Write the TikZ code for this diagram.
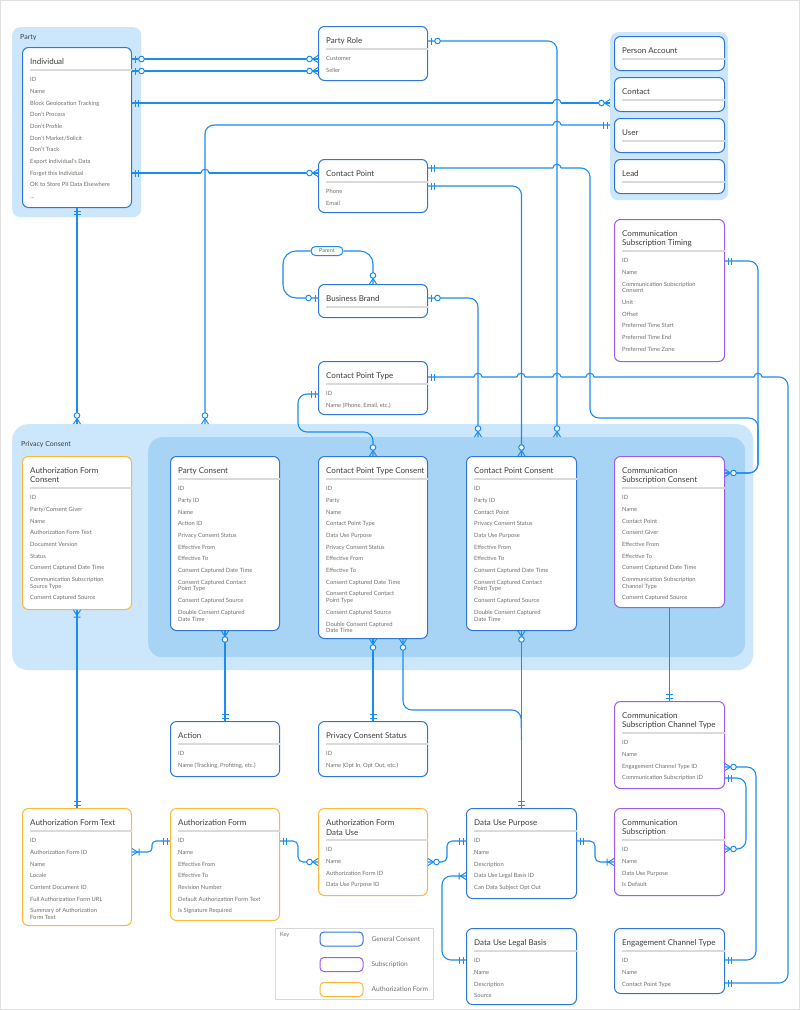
\documentclass[tikz,border=0pt]{standalone}
\usepackage{fontspec}
\setmainfont{Lato}
\usetikzlibrary{positioning}

\definecolor{lnk}{HTML}{1B8CF2}
\definecolor{gcon}{HTML}{2F76D9}
\definecolor{subs}{HTML}{9D5CEC}
\definecolor{auth}{HTML}{FDB83A}
\definecolor{outerbg}{HTML}{CCE7FB}
\definecolor{innerbg}{HTML}{A7D4F4}
\definecolor{ttlc}{HTML}{3E3E3C}
\definecolor{attrc}{HTML}{706E6B}
\definecolor{divc}{HTML}{DADADA}

% entity: name, style, x, y, w, h, title, divider offset, attributes
\newcommand\entity[9]{%
  \node[#2, minimum width=#5pt, minimum height=#6pt] (#1) at (#3,#4) {};
  \node[ttl] (#1-t) at ([xshift=8pt,yshift=-11.5pt]#1.north west) {#7};
  \draw[divline] ([xshift=8pt,yshift=-#8pt]#1.north west) -- ([yshift=-#8pt]#1.north east);
  \node[attr] (#1-a) at ([xshift=8pt,yshift=-#8pt-7.3pt]#1.north west) {#9};
}
% line hop over a crossing
\newcommand\hop[2]{\draw[rel,sharp corners] (#1-4,#2) .. controls (#1-4,#2-5) and (#1+4,#2-5) .. (#1+4,#2);}

\begin{document}
\begin{tikzpicture}[x=1pt,y=-1pt,
  rel/.style={draw=lnk,line width=1.1pt,rounded corners=9pt},
  mk/.style={draw=lnk,line width=1pt,sharp corners},
  grp/.style={fill=outerbg,rounded corners=8pt,anchor=north west,inner sep=0pt},
  gcbox/.style={draw=gcon,fill=white,line width=1pt,rounded corners=6pt,anchor=north west,inner sep=0pt},
  subbox/.style={gcbox,draw=subs},
  afbox/.style={gcbox,draw=auth},
  ttl/.style={anchor=north west,inner sep=0pt,align=left,text=ttlc,font=\fontsize{8}{9.4}\selectfont},
  attr/.style={anchor=north west,inner sep=0pt,align=left,text=attrc,font=\fontsize{5.8}{11.7}\selectfont},
  lbl/.style={anchor=west,inner sep=0pt,text=ttlc,font=\fontsize{7}{8}\selectfont},
  divline/.style={draw=divc,line width=1.2pt},
  pill/.style={draw=lnk,fill=white,line width=1pt,rounded corners=4.5pt,minimum width=32pt,minimum height=9pt,inner sep=0pt,text=attrc,font=\fontsize{5.5}{6}\selectfont},
  keysw/.style={draw=#1,line width=1pt,rounded corners=4pt,minimum width=43pt,minimum height=14pt,inner sep=0pt},
  keytx/.style={anchor=west,inner sep=0pt,text=attrc,font=\fontsize{6.6}{7}\selectfont},
  pics/mone/.style={code={\draw[mk] (3,-3.5) -- (3,3.5) (6.5,-3.5) -- (6.5,3.5);}},
  pics/zone/.style={code={\draw[mk] (3,-3.5) -- (3,3.5); \draw[mk,fill=white] (9.5,0) circle (2.8);}},
  pics/zmany/.style={code={\draw[mk] (0,-3.5) -- (5.5,0) -- (0,3.5); \draw[mk,fill=white] (8.5,0) circle (2.8);}},
  pics/omany/.style={code={\draw[mk] (0,-3.5) -- (5.5,0) -- (0,3.5) (7,-3.5) -- (7,3.5);}}]
  \useasboundingbox (0,0) rectangle (800,1010);
  \fill[white] (0,0) rectangle (800,1010);
  \draw[black!12,line width=1.5pt] (0,0) rectangle (800,1010);

  % groups
  \node[grp,minimum width=129pt,minimum height=190pt] (party) at (12,27) {};
  \node[lbl] (party-l) at (20,38) {Party};
  \node[grp,minimum width=118pt,minimum height=168pt] (pgrp) at (610,32) {};
  \node[grp,rounded corners=16pt,minimum width=741pt,minimum height=246pt] (pcout) at (12,424) {};
  \node[lbl] (pcout-l) at (21,445) {Privacy Consent};
  \node[grp,fill=innerbg,rounded corners=14pt,minimum width=597pt,minimum height=220pt] (pcin) at (148,437) {};

  % entities
  \entity{indiv}{gcbox}{22}{47}{109}{160}{Individual}{23}{ID\\Name\\Block Geolocation Tracking\\Don't Process\\Don't Profile\\Don't Market/Solicit\\Don't Track\\Export Individual's Data\\Forget this Individual\\OK to Store PII Data Elsewhere\\...}
  \entity{prole}{gcbox}{318}{26}{109}{54}{Party Role}{23}{Customer\\Seller}
  \entity{cpoint}{gcbox}{318}{159}{109}{53}{Contact Point}{23}{Phone\\Email}
  \entity{pacct}{gcbox}{614}{36}{110}{34}{Person Account}{23}{}
  \entity{contact}{gcbox}{614}{77}{110}{34}{Contact}{23}{}
  \entity{user}{gcbox}{614}{118}{110}{34}{User}{23}{}
  \entity{lead}{gcbox}{614}{159}{110}{34}{Lead}{23}{}
  \entity{bbrand}{gcbox}{318}{284}{109}{33}{Business Brand}{23}{}
  \entity{cst}{subbox}{614}{219}{110}{142}{Communication\\Subscription Timing}{32}{ID\\Name\\Communication Subscription\\[-5pt]Consent\\Unit\\Offset\\Preferred Time Start\\Preferred Time End\\Preferred Time Zone}
  \entity{cptype}{gcbox}{318}{361}{109}{53}{Contact Point Type}{23}{ID\\Name (Phone, Email, etc.)}
  \entity{afc}{afbox}{22}{456}{109}{153}{Authorization Form\\Consent}{32}{ID\\Party/Consent Giver\\Name\\Authorization Form Text\\Document Version\\Status\\Consent Captured Date Time\\Communication Subscription\\[-5pt]Source Type\\Consent Captured Source}
  \entity{pcon}{gcbox}{170}{456}{109}{174}{Party Consent}{23}{ID\\Party ID\\Name\\Action ID\\Privacy Consent Status\\Effective From\\Effective To\\Consent Captured Date Time\\Consent Captured Contact\\[-5pt]Point Type\\Consent Captured Source\\Double Consent Captured\\[-5pt]Date Time}
  \entity{cptc}{gcbox}{318}{456}{109}{182}{Contact Point Type Consent}{23}{ID\\Party\\Name\\Contact Point Type\\Data Use Purpose\\Privacy Consent Status\\Effective From\\Effective To\\Consent Captured Date Time\\Consent Captured Contact\\[-5pt]Point Type\\Consent Captured Source\\Double Consent Captured\\[-5pt]Date Time}
  \entity{cpc}{gcbox}{466}{456}{110}{174}{Contact Point Consent}{23}{ID\\Party ID\\Contact Point\\Privacy Consent Status\\Data Use Purpose\\Effective From\\Effective To\\Consent Captured Date Time\\Consent Captured Contact\\[-5pt]Point Type\\Consent Captured Source\\Double Consent Captured\\[-5pt]Date Time}
  \entity{csc}{subbox}{614}{456}{110}{151}{Communication\\Subscription Consent}{32}{ID\\Name\\Contact Point\\Consent Giver\\Effective From\\Effective To\\Consent Captured Date Time\\Communication Subscription\\[-5pt]Channel Type\\Consent Captured Source}
  \entity{action}{gcbox}{170}{721}{109}{55}{Action}{23}{ID\\Name (Tracking, Profiting, etc.)}
  \entity{pcs}{gcbox}{318}{721}{109}{55}{Privacy Consent Status}{23}{ID\\Name (Opt In, Opt Out, etc.)}
  \entity{csct}{subbox}{614}{701}{110}{87}{Communication\\Subscription Channel Type}{32}{ID\\Name\\Engagement Channel Type ID\\Communication Subscription ID}
  \entity{aft}{afbox}{22}{808}{109}{117}{Authorization Form Text}{23}{ID\\Authorization Form ID\\Name\\Locale\\Content Document ID\\Full Authorization Form URL\\Summary of Authorization\\[-5pt]Form Text}
  \entity{af}{afbox}{170}{808}{109}{112}{Authorization Form}{23}{ID\\Name\\Effective From\\Effective To\\Revision Number\\Default Authorization Form Text\\Is Signature Required}
  \entity{afdu}{afbox}{318}{808}{109}{87}{Authorization Form\\Data Use}{32}{ID\\Name\\Authorization Form ID\\Data Use Purpose ID}
  \entity{dup}{gcbox}{466}{808}{110}{90}{Data Use Purpose}{23}{ID\\Name\\Description\\Data Use Legal Basis ID\\Can Data Subject Opt Out}
  \entity{cs}{subbox}{614}{808}{110}{87}{Communication\\Subscription}{32}{ID\\Name\\Data Use Purpose\\Is Default}
  \entity{dulb}{gcbox}{466}{928}{110}{76}{Data Use Legal Basis}{23}{ID\\Name\\Description\\Source}
  \entity{ect}{gcbox}{614}{928}{110}{65}{Engagement Channel Type}{23}{ID\\Name\\Contact Point Type}
  \node[pill] (parent) at (327,251) {Parent};

  % key
  \node[draw=black!15,fill=white,line width=1pt,anchor=north west,minimum width=158pt,minimum height=71pt] (key) at (275,928) {};
  \node[anchor=north west,inner sep=0pt,text=attrc,font=\fontsize{5.5}{6}\selectfont] (key-t) at (280,932) {Key};
  \node[keysw=gcon] (k1) at (341.5,939) {};
  \node[keysw=subs] (k2) at (341.5,964.5) {};
  \node[keysw=auth] (k3) at (341.5,989.5) {};
  \node[keytx] (k1-t) at ([xshift=8pt]k1.east) {General Consent};
  \node[keytx] (k2-t) at ([xshift=8pt]k2.east) {Subscription};
  \node[keytx] (k3-t) at ([xshift=8pt]k3.east) {Authorization Form};

  % relations
  \draw[rel] (indiv.east |- 0,59) -- (prole.west |- 0,59);
  \draw[rel] (indiv.east |- 0,71) -- (prole.west |- 0,71);
  \draw[rel] (indiv.east |- 0,103) -- (553,103) (561,103) -- (pgrp.west |- 0,103);
  \draw[rel] (pcout.north -| 205,0) -- (205,125) -- (553,125) (561,125) -- (pgrp.west |- 0,125);
  \draw[rel] (indiv.east |- 0,173) -- (201,173) (209,173) -- (cpoint.west |- 0,173);
  \draw[rel] (indiv.south) -- (pcout.north -| indiv.south);
  \draw[rel] (prole.east |- 0,41) -- (557,41) -- (pcin.north -| 557,0);
  \draw[rel] (cpoint.east |- 0,168) -- (553,168) (561,168) -- (590,168) -- (590,418) -- (758,418) -- (758,473) -- (csc.east |- 0,473);
  \draw[rel] (cst.east |- 0,261) -- (758,261) -- (758,473) -- (csc.east |- 0,473);
  \draw[rel] (cpoint.east |- 0,186) -- (cpc.north |- 0,186) -- (cpc.north);
  \draw[rel] (bbrand.east |- 0,298) -- (478,298) -- (pcin.north -| 478,0);
  \draw[rel,rounded corners=13pt] (bbrand.west |- 0,298) -- (283,298) -- (283,251) -- (parent.west);
  \draw[rel,rounded corners=13pt] (parent.east) -- (bbrand.north |- parent.east) -- (bbrand.north);
  \draw[rel] (cptype.west |- 0,394) -- (298,394) -- (298,432) -- (cptc.north |- 0,432) -- (cptc.north);
  \draw[rel] (cptype.east |- 0,377) -- (474,377) (482,377) -- (517,377) (525,377) -- (553,377) (561,377) -- (586,377)
    (594,377) -- (754,377) (762,377) -- (788,377) -- (788,983) -- (ect.east |- 0,983);
  \foreach \hx/\hy in {557/103,557/125,205/173,557/168,478/377,521/377,557/377,590/377,758/377}
    {\hop{\hx}{\hy}}
  \draw[rel] (afc.south) -- (aft.north);
  \draw[rel] (pcon.south) -- (action.north);
  \draw[rel] (cptc.south) -- (pcs.north);
  \draw[rel] (cptc.south -| 403,0) -- (403,710) -- (521,710) -- (dup.north |- 0,740);
  \draw[rel] (cpc.south) -- (dup.north);
  \draw[rel] (csc.south) -- (csct.north);
  \draw[rel] (csct.east |- 0,767) -- (756,767) -- (756,960) -- (ect.east |- 0,960);
  \draw[rel] (csct.east |- 0,778) -- (746,778) -- (746,849) -- (cs.east |- 0,849);
  \draw[rel,rounded corners=4pt] (aft.east |- 0,852) -- (152,852) -- (152,841) -- (af.west |- 0,841);
  \draw[rel,rounded corners=5pt] (af.east |- 0,841) -- (298,841) -- (298,862) -- (afdu.west |- 0,862);
  \draw[rel,rounded corners=5pt] (afdu.east |- 0,862) -- (447,862) -- (447,841) -- (dup.west |- 0,841);
  \draw[rel] (dulb.west |- 0,960) -- (442,960) -- (442,876) -- (dup.west |- 0,876);
  \draw[rel,rounded corners=5pt] (dup.east |- 0,841) -- (595,841) -- (595,862) -- (cs.west |- 0,862);

  % ends
  \path (indiv.east |- 0,59) pic{zone} (prole.west |- 0,59) pic[rotate=180]{zmany}
    (indiv.east |- 0,71) pic{zone} (prole.west |- 0,71) pic[rotate=180]{zmany}
    (indiv.east |- 0,103) pic{mone} (pgrp.west |- 0,103) pic[rotate=180]{zmany}
    (pcout.north -| 205,0) pic[rotate=90]{zmany} (pgrp.west |- 0,125) pic[rotate=180]{mone}
    (indiv.east |- 0,173) pic{mone} (cpoint.west |- 0,173) pic[rotate=180]{zmany}
    (indiv.south) pic[rotate=-90]{mone} (pcout.north -| indiv.south) pic[rotate=90]{zmany}
    (prole.east |- 0,41) pic{zone} (pcin.north -| 557,0) pic[rotate=90]{zmany}
    (cpoint.east |- 0,168) pic{mone} (csc.east |- 0,473) pic{zmany}
    (cst.east |- 0,261) pic{mone}
    (cpoint.east |- 0,186) pic{mone} (cpc.north) pic[rotate=90]{zmany}
    (bbrand.east |- 0,298) pic{zone} (pcin.north -| 478,0) pic[rotate=90]{zmany}
    (bbrand.west |- 0,298) pic[rotate=180]{zone} (bbrand.north) pic[rotate=90]{zmany}
    (cptype.west |- 0,394) pic[rotate=180]{mone} (cptc.north) pic[rotate=90]{zmany}
    (cptype.east |- 0,377) pic{mone} (ect.east |- 0,983) pic{mone}
    (afc.south) pic[rotate=-90]{omany} (aft.north) pic[rotate=90]{mone}
    (pcon.south) pic[rotate=-90]{zmany} (action.north) pic[rotate=90]{mone}
    (cptc.south) pic[rotate=-90]{zmany} (pcs.north) pic[rotate=90]{mone}
    (cptc.south -| 403,0) pic[rotate=-90]{zmany}
    (cpc.south) pic[rotate=-90]{zmany} (dup.north) pic[rotate=90]{mone}
    (csct.north) pic[rotate=90]{mone}
    (csct.east |- 0,767) pic{zmany} (ect.east |- 0,960) pic{mone}
    (csct.east |- 0,778) pic{mone} (cs.east |- 0,849) pic{zmany}
    (aft.east |- 0,852) pic{omany} (af.west |- 0,841) pic[rotate=180]{mone}
    (af.east |- 0,841) pic{mone} (afdu.west |- 0,862) pic[rotate=180]{zmany}
    (afdu.east |- 0,862) pic{zmany} (dup.west |- 0,841) pic[rotate=180]{mone}
    (dulb.west |- 0,960) pic[rotate=180]{mone} (dup.west |- 0,876) pic[rotate=180]{omany}
    (dup.east |- 0,841) pic{mone} (cs.west |- 0,862) pic[rotate=180]{omany};
\end{tikzpicture}
\end{document}
